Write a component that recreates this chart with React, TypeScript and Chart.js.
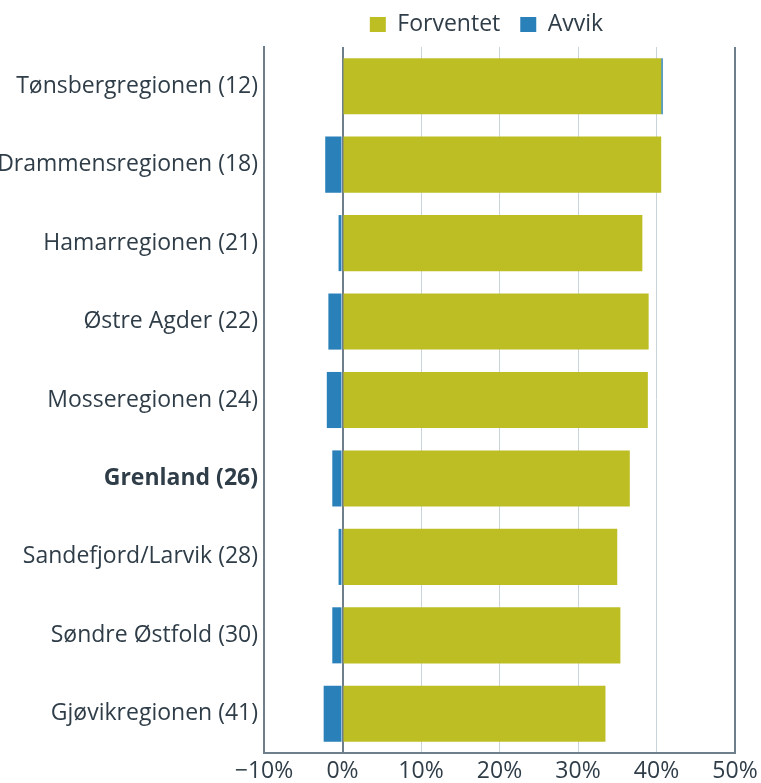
import React, { useEffect, useRef } from "react";
import { Chart, registerables } from "chart.js";

Chart.register(...registerables);

const categories = [
  "Tønsbergregionen (12)",
  "Drammensregionen (18)",
  "Hamarregionen (21)",
  "Østre Agder (22)",
  "Mosseregionen (24)",
  "Grenland (26)",
  "Sandefjord/Larvik (28)",
  "Søndre Østfold (30)",
  "Gjøvikregionen (41)",
];
const forventet = [40.6, 40.6, 38.2, 39.0, 38.9, 36.6, 35.0, 35.4, 33.5];
const avvik = [0.2, -2.2, -0.5, -1.8, -2.0, -1.3, -0.5, -1.3, -2.4];
const boldIndex = 5;

const FONT = "'Open Sans', sans-serif";
const TEXT = "#2f3d48";
const LEG_PAD = 20;

const legendFix = {
  id: "legendFix",
  beforeLayout(chart: any) {
    const lg = chart.legend;
    if (lg && !lg._patched) {
      const orig = lg.fit.bind(lg);
      lg.fit = function () {
        orig();
        this.height = 47;
      };
      lg._patched = true;
    }
  },
  afterLayout(chart: any) {
    const lg = chart.legend;
    if (!lg) return;
    lg.left -= 13;
    lg.right -= 13;
    lg.top = 13 - LEG_PAD;
  },
};

export default function App() {
  const ref = useRef<HTMLCanvasElement | null>(null);
  useEffect(() => {
    document.body.style.margin = "0";
    const ctx = ref.current!.getContext("2d")!;
    const chart = new Chart(ctx, {
      type: "bar",
      data: {
        labels: categories,
        datasets: [
          { label: "Forventet", data: forventet, backgroundColor: "#bdbe24", barPercentage: 0.715, categoryPercentage: 1 },
          { label: "Avvik", data: avvik, backgroundColor: "#2a80b9", barPercentage: 0.715, categoryPercentage: 1 },
        ],
      },
      plugins: [legendFix],
      options: {
        indexAxis: "y",
        animation: false,
        responsive: false,
        maintainAspectRatio: false,
        layout: { padding: { left: 0, right: 26, top: 0, bottom: 0 } },
        plugins: {
          tooltip: { enabled: false },
          legend: {
            position: "top",
            align: "center",
            fullSize: false,
            labels: {
              font: { family: FONT, size: 23 },
              color: TEXT,
              boxWidth: 16,
              boxHeight: 15,
              padding: LEG_PAD,
            },
          },
        },
        scales: {
          x: {
            stacked: true,
            min: -10,
            max: 50,
            ticks: {
              stepSize: 10,
              font: { family: FONT, size: 23 },
              color: TEXT,
              padding: 5,
              callback: (v: any) => (v < 0 ? "\u2212" + Math.abs(v) : String(v)) + "%",
            },
            grid: {
              drawTicks: false,
              color: (c: any) => {
                const v = c.tick ? c.tick.value : 0;
                return v === 0 || v === 50 || v === -10 ? "#6e7f8b" : "#c9d3da";
              },
              lineWidth: (c: any) => {
                const v = c.tick ? c.tick.value : 0;
                return v === 0 || v === 50 ? 2 : 1;
              },
            },
            border: { display: true, color: "#6e7f8b", width: 2 },
            afterFit: (s: any) => {
              s.height = 30;
              s.paddingRight = 0;
              s.paddingLeft = 0;
            },
          },
          y: {
            stacked: true,
            ticks: {
              font: (c: any) => ({ family: FONT, size: 23, weight: c.index === boldIndex ? "bold" : "normal" }),
              color: TEXT,
              padding: 6,
            },
            grid: { display: false, drawTicks: false },
            border: { display: true, color: "#6e7f8b", width: 2 },
            afterFit: (s: any) => {
              s.width = 264;
            },
          },
        },
      },
    });
    return () => chart.destroy();
  }, []);
  return (
    <div style={{ position: "absolute", left: 0, top: 0, width: 761, height: 783 }}>
      <canvas ref={ref} width={761} height={783} />
    </div>
  );
}
